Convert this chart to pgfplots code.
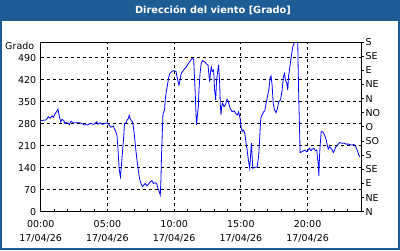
\documentclass[border=0pt]{standalone}
\usepackage{pgfplots}
\pgfplotsset{compat=1.18}
\usepackage{pgfplotstable}
\usepackage{fontspec}
\setmainfont{DejaVu Sans}
\definecolor{frame}{RGB}{30,92,150}
\pgfplotstableread{
h v
0.02 290
0.40 292
0.57 302
0.70 297
0.85 305
0.95 300
1.07 311
1.30 326
1.40 302
1.50 286
1.60 294
1.73 290
1.82 281
1.90 284
2.05 282
2.15 277
2.27 288
2.42 283
2.58 283
2.95 283
3.25 277
3.53 276
3.70 281
3.98 278
4.20 286
4.30 278
4.45 283
4.62 278
4.83 281
5.00 283
5.28 269
5.45 273
5.53 262
5.58 260
5.71 244
5.78 207
5.83 170
5.88 138
5.93 122
5.98 111
6.03 138
6.08 165
6.16 207
6.23 244
6.28 281
6.40 283
6.48 292
6.58 297
6.63 307
6.70 297
6.78 290
6.88 286
6.95 269
7.03 239
7.13 196
7.23 159
7.33 127
7.43 101
7.53 88
7.63 80
7.73 85
7.83 90
7.96 82
8.08 88
8.21 95
8.33 99
8.45 90
8.58 92
8.71 88
8.78 74
8.88 64
8.96 53
9.01 101
9.05 175
9.11 250
9.16 311
9.28 324
9.33 356
9.41 382
9.48 398
9.58 425
9.68 440
9.83 446
9.95 449
10.14 446
10.21 430
10.29 415
10.36 403
10.44 419
10.53 440
10.71 451
10.89 460
11.04 470
11.21 480
11.34 488
11.46 485
11.51 440
11.58 377
11.64 308
11.68 276
11.73 302
11.81 334
11.86 387
11.94 440
12.03 474
12.13 481
12.28 477
12.43 470
12.54 467
12.58 446
12.66 414
12.73 446
12.79 460
12.86 446
12.96 451
13.03 387
13.11 356
13.18 419
13.26 446
13.33 467
13.41 409
13.46 340
13.51 308
13.56 334
13.63 345
13.74 334
13.84 340
13.96 358
14.06 350
14.19 329
14.34 318
14.49 321
14.64 311
14.74 308
14.83 318
14.94 297
15.02 269
15.09 255
15.19 260
15.29 251
15.39 218
15.47 196
15.56 165
15.66 138
15.79 218
15.89 138
16.04 141
16.22 143
16.34 180
16.44 260
16.49 297
16.59 308
16.71 318
16.79 321
16.89 345
16.99 366
17.09 387
17.19 425
17.26 432
17.34 403
17.42 345
17.52 324
17.64 315
17.74 329
17.84 350
17.97 356
18.09 387
18.19 430
18.27 440
18.34 419
18.44 409
18.51 387
18.57 430
18.64 451
18.72 477
18.81 504
18.89 525
18.99 536
19.14 541
19.26 545
19.29 461
19.34 356
19.39 271
19.44 188
19.59 191
19.77 196
19.92 191
20.05 196
20.14 202
20.24 194
20.35 199
20.47 202
20.59 194
20.69 196
20.74 170
20.80 154
20.84 114
20.89 175
20.95 218
21.02 255
21.14 254
21.27 244
21.40 228
21.47 212
21.55 199
21.64 207
21.74 202
21.85 196
21.92 188
22.02 196
22.12 207
22.24 212
22.39 220
22.55 218
22.72 218
22.90 215
23.09 215
23.30 212
23.47 214
23.60 207
23.72 196
23.84 180
23.90 175
}\wind
\begin{document}
\begin{tikzpicture}[x=1pt,y=1pt]
\useasboundingbox (0,0) rectangle (400,250);
\fill[frame] (0,0) rectangle (400,250);
\fill[white] (2,2) rectangle (398,229.3);
\node[text=white,font=\fontsize{9.8}{11}\selectfont\bfseries] at (213,239.7) {Dirección del viento [Grado]};
\begin{axis}[
  at={(40.7pt,38.3pt)}, anchor=south west, scale only axis,
  width=320.3pt, height=169.7pt,
  xmin=0, xmax=24, ymin=0, ymax=540,
  xtick={0,5,10,15,20},
  xticklabels={{00:00\\17/04/26},{05:00\\17/04/26},{10:00\\17/04/26},{15:00\\17/04/26},{20:00\\17/04/26}},
  minor xtick={1,2,3,4,6,7,8,9,11,12,13,14,16,17,18,19,21,22,23},
  ytick={0,70,140,210,280,350,420,490},
  xtick pos=bottom, ytick pos=left,
  tick align=inside,
  major tick length=3pt, minor tick length=3pt,
  ytick style={draw=none},
  grid=major,
  major grid style={black, line width=0.8pt, dash pattern=on 3pt off 3pt},
  axis line style={black, line width=0.8pt},
  tick style={black, line width=0.8pt},
  /pgf/number format/assume math mode=true,
  ticklabel style={font=\fontsize{9.5}{14.5}\selectfont},
  xticklabel style={align=center, yshift=-5pt},
  yticklabel style={xshift=-1pt},
  ylabel={Grado},
  ylabel style={rotate=-90, anchor=east, at={(rel axis cs:0,1)}, xshift=-3pt, yshift=-4pt, font=\fontsize{9.5}{11}\selectfont},
  clip=true,
]
\addplot[draw=blue, line width=0.8pt, mark=none] table[x=h,y=v] {\wind};
\end{axis}
\begin{axis}[
  at={(40.7pt,38.3pt)}, anchor=south west, scale only axis,
  width=320.3pt, height=169.7pt,
  xmin=0, xmax=24, ymin=0, ymax=540,
  axis x line=none, axis y line*=right,
  ytick={0,45,90,135,180,225,270,315,360,405,450,495,540},
  yticklabels={N,NE,E,SE,S,SO,O,NO,N,NE,E,SE,S},
  tick align=outside, major tick length=3pt,
  axis line style={black, line width=0.8pt, -},
  tick style={black, line width=0.8pt},
  yticklabel style={font=\fontsize{9.5}{11}\selectfont, xshift=-2pt},
]
\addplot[draw=none] coordinates {(0,0)};
\end{axis}
\end{tikzpicture}
\end{document}
